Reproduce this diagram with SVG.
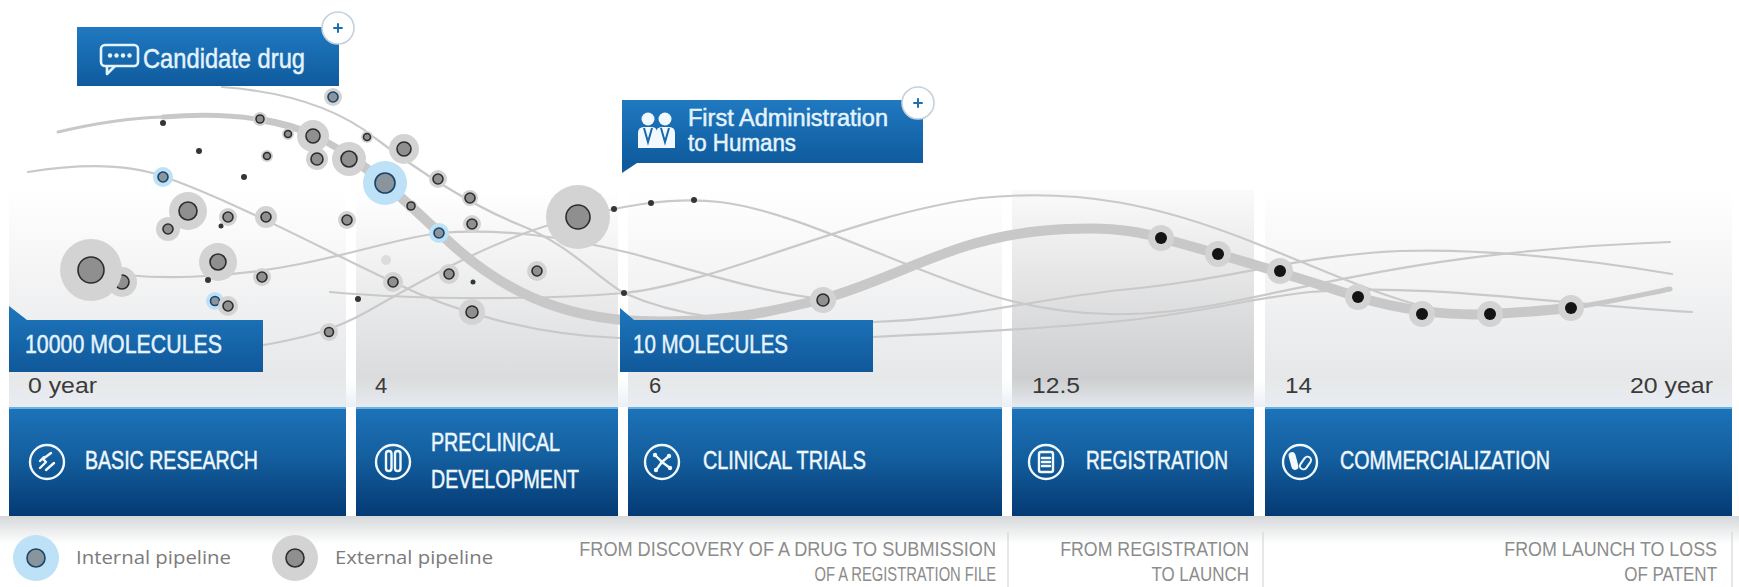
<svg xmlns="http://www.w3.org/2000/svg" width="1739" height="587" viewBox="0 0 1739 587">
  <defs>
    <linearGradient id="phaseGrad" x1="0" y1="0" x2="0" y2="1">
      <stop offset="0" stop-color="#1d73b9"/>
      <stop offset="0.45" stop-color="#145f9f"/>
      <stop offset="1" stop-color="#043a74"/>
    </linearGradient>
    <linearGradient id="calloutGrad" x1="0" y1="0" x2="0" y2="1">
      <stop offset="0" stop-color="#2079c0"/>
      <stop offset="1" stop-color="#0f5b9e"/>
    </linearGradient>
    <linearGradient id="molGrad" x1="0" y1="0" x2="0" y2="1">
      <stop offset="0" stop-color="#1e76bc"/>
      <stop offset="1" stop-color="#10589a"/>
    </linearGradient>
    <linearGradient id="colLight" x1="0" y1="0" x2="0" y2="1">
      <stop offset="0" stop-color="#ffffff"/>
      <stop offset="1" stop-color="#e3e4e6"/>
    </linearGradient>
    <linearGradient id="colMid" x1="0" y1="0" x2="0" y2="1">
      <stop offset="0" stop-color="#ffffff"/>
      <stop offset="1" stop-color="#d5d6d8"/>
    </linearGradient>
    <linearGradient id="colDark" x1="0" y1="0" x2="0" y2="1">
      <stop offset="0" stop-color="#fafafa"/>
      <stop offset="1" stop-color="#c6c7c9"/>
    </linearGradient>
    <linearGradient id="shadowGrad" x1="0" y1="0" x2="0" y2="1">
      <stop offset="0" stop-color="#d6d8da"/>
      <stop offset="1" stop-color="#ffffff"/>
    </linearGradient>
    <linearGradient id="stripGrad" x1="0" y1="0" x2="0" y2="1">
      <stop offset="0" stop-color="#eef1f4" stop-opacity="0"/>
      <stop offset="1" stop-color="#e8eef4" stop-opacity="0.9"/>
    </linearGradient>
  </defs>
  <style>
    .thin { fill: none; stroke: #c9c9c9; stroke-width: 2.2; stroke-linecap: round; }
    .band { fill: none; stroke: #c8c8c8; stroke-linecap: round; }
    .ext { fill: #d3d3d3; }
    .int { fill: #bde1f6; }
    .core { fill: #8f8f8f; stroke: #2d2d2d; stroke-width: 1.6; }
    .icore { fill: #8a949c; stroke: #1b4468; stroke-width: 1.6; }
    .tiny { fill: #353535; }
    .blk { fill: #141414; }
    .phase { fill: url(#phaseGrad); }
    .hl { fill: #6cb0e2; }
    .ptxt { font-family: "Liberation Sans", Arial, sans-serif; font-size: 25px; fill: #eef7fd; stroke: #eef7fd; stroke-width: 0.5; }
    .ico { fill: none; stroke: #f2f9fe; stroke-width: 2.4; stroke-linecap: round; stroke-linejoin: round; }
    .year { font-family: "Liberation Sans", Arial, sans-serif; font-size: 22px; fill: #3a3a3a; }
    .wtxt { font-family: "Liberation Sans", Arial, sans-serif; fill: #e4f3fc; stroke: #e4f3fc; stroke-width: 0.5; }
    .desc { font-family: "Liberation Sans", Arial, sans-serif; font-size: 21px; fill: #8c8c8c; text-anchor: end; }
    .leg { font-family: "Open Sans", "Liberation Sans", sans-serif; font-size: 19px; fill: #7b7b7b; }
    .sep { stroke: #cfcfcf; stroke-width: 1; }
    .plus-c { fill: #ffffff; stroke: #c4d1dc; stroke-width: 1.6; }
    .plus { stroke: #1d6fb0; stroke-width: 2; stroke-linecap: round; }
  </style>

  <rect width="1739" height="587" fill="#ffffff"/>

  <!-- column backdrops above the phase bar -->
  <g id="columns">
    <rect x="9" y="190" width="337" height="217" fill="url(#colLight)"/>
    <rect x="356" y="190" width="262" height="217" fill="url(#colMid)"/>
    <rect x="628" y="190" width="374" height="217" fill="url(#colLight)"/>
    <rect x="1012" y="190" width="242" height="217" fill="url(#colDark)"/>
    <rect x="1265" y="190" width="467" height="217" fill="url(#colLight)"/>
    <rect x="9" y="378" width="1723" height="29" fill="url(#stripGrad)"/>
    <rect x="0" y="516" width="1739" height="28" fill="url(#shadowGrad)"/>
  </g>

  <!-- flowing pipelines -->
  <g id="connectors">
    <path class="band" stroke-width="3" d="M58,132 C100,122 130,118 163,117"/>
    <path class="band" stroke-width="5" d="M163,117 C200,114 235,115 262,120"/>
    <path class="band" stroke-width="7" d="M262,120 C300,126 330,140 360,165"/>
    <path class="band" stroke-width="10" d="M352,158 C390,185 420,215 445,238 C500,290 560,318 640,321 C720,324 770,312 823,299 C900,277 950,240 1040,231 C1100,226 1130,229 1161,238 C1220,254 1290,275 1358,297 C1400,310 1450,316 1490,314 C1530,312 1560,309 1575,307"/>
    <path class="band" stroke-width="5" d="M1575,307 C1610,302 1640,295 1670,289"/>

    <path class="thin" d="M222,87 C290,92 340,110 375,138 C420,172 470,205 520,225 C570,245 600,280 624,293 C680,318 740,322 800,322 C830,322 860,322 873,322 C960,320 1030,300 1120,290 C1230,280 1300,255 1400,251 C1500,248 1600,262 1672,274"/>
    <path class="thin" d="M28,172 C90,162 135,166 165,177 C240,204 320,248 393,282 C450,310 530,335 620,338 C720,341 800,340 873,337 C960,333 1050,328 1110,322 C1200,314 1250,298 1310,292 C1420,282 1560,305 1692,312"/>
    <path class="thin" d="M91,270 C150,282 230,278 300,264 C360,252 400,238 439,233 C500,228 560,236 630,253 C700,272 760,292 823,299"/>
    <path class="thin" d="M330,292 C420,300 540,300 624,293 C720,283 850,215 980,198 C1080,188 1160,205 1255,243 C1330,273 1380,296 1426,307"/>
    <path class="thin" d="M578,217 C620,207 670,196 720,202 C800,212 900,268 1000,298 C1080,320 1150,318 1230,302 C1340,280 1450,250 1670,242"/>
    <path class="thin" d="M264,345 C300,338 330,333 370,310 C440,270 500,238 560,222"/>
  </g>

  <!-- molecules along the pipelines -->
  <g id="molecules">
    <circle class="ext" cx="122" cy="282" r="15"/><circle class="core" cx="122" cy="282" r="7"/>
    <circle class="ext" cx="91" cy="270" r="31"/><circle class="core" cx="91" cy="270" r="13"/>
    <circle class="tiny" cx="163" cy="123" r="3"/>
    <circle class="ext" cx="260" cy="119" r="7"/><circle class="core" cx="260" cy="119" r="4"/>
    <circle class="ext" cx="288" cy="134" r="6"/><circle class="core" cx="288" cy="134" r="3.5"/>
    <circle class="ext" cx="313" cy="136" r="16"/><circle class="core" cx="313" cy="136" r="7"/>
    <circle class="ext" cx="367" cy="137" r="6"/><circle class="core" cx="367" cy="137" r="3.5"/>
    <circle class="ext" cx="404" cy="149" r="15"/><circle class="core" cx="404" cy="149" r="7"/>
    <circle class="tiny" cx="199" cy="151" r="3"/>
    <circle class="ext" cx="267" cy="156" r="6"/><circle class="core" cx="267" cy="156" r="3.5"/>
    <circle class="ext" cx="317" cy="159" r="11"/><circle class="core" cx="317" cy="159" r="6"/>
    <circle class="ext" cx="349" cy="159" r="17"/><circle class="core" cx="349" cy="159" r="8"/>
    <circle class="int" cx="163" cy="177" r="10"/><circle class="icore" cx="163" cy="177" r="5"/>
    <circle class="tiny" cx="244" cy="177" r="3"/>
    <circle class="int" cx="385" cy="183" r="22"/><circle class="icore" cx="385" cy="183" r="10"/>
    <circle class="ext" cx="438" cy="179" r="9"/><circle class="core" cx="438" cy="179" r="5"/>
    <circle class="ext" cx="470" cy="198" r="8"/><circle class="core" cx="470" cy="198" r="5"/>
    <circle class="ext" cx="411" cy="206" r="6"/><circle class="core" cx="411" cy="206" r="4"/>
    <circle class="ext" cx="188" cy="211" r="19"/><circle class="core" cx="188" cy="211" r="9"/>
    <circle class="ext" cx="228" cy="217" r="9"/><circle class="core" cx="228" cy="217" r="5"/>
    <circle class="ext" cx="266" cy="217" r="11"/><circle class="core" cx="266" cy="217" r="5"/>
    <circle class="ext" cx="347" cy="220" r="9"/><circle class="core" cx="347" cy="220" r="5"/>
    <circle class="ext" cx="472" cy="224" r="9"/><circle class="core" cx="472" cy="224" r="5"/>
    <circle class="ext" cx="168" cy="229" r="12"/><circle class="core" cx="168" cy="229" r="5"/>
    <circle class="tiny" cx="221" cy="226" r="2.5"/>
    <circle class="int" cx="439" cy="233" r="10"/><circle class="icore" cx="439" cy="233" r="5"/>
    <circle fill="#dcdcdc" cx="386" cy="260" r="5"/>
    <circle class="ext" cx="218" cy="262" r="19"/><circle class="core" cx="218" cy="262" r="8"/>
    <circle class="tiny" cx="208" cy="280" r="3"/>
    <circle class="ext" cx="262" cy="277" r="9"/><circle class="core" cx="262" cy="277" r="5"/>
    <circle class="ext" cx="393" cy="282" r="10"/><circle class="core" cx="393" cy="282" r="5"/>
    <circle class="ext" cx="449" cy="274" r="10"/><circle class="core" cx="449" cy="274" r="5"/>
    <circle class="tiny" cx="473" cy="282" r="2.5"/>
    <circle class="tiny" cx="358" cy="299" r="3"/>
    <circle class="int" cx="215" cy="301" r="9"/><circle class="icore" cx="215" cy="301" r="4.5"/>
    <circle class="ext" cx="228" cy="306" r="10"/><circle class="core" cx="228" cy="306" r="5"/>
    <circle class="ext" cx="472" cy="312" r="13"/><circle class="core" cx="472" cy="312" r="6"/>
    <circle class="ext" cx="329" cy="332" r="9"/><circle class="core" cx="329" cy="332" r="4.5"/>
    <circle class="ext" cx="333" cy="97" r="9"/><circle class="icore" cx="333" cy="97" r="5"/>
    <circle class="ext" cx="537" cy="271" r="10"/><circle class="core" cx="537" cy="271" r="5"/>
    <circle class="ext" cx="578" cy="217" r="32"/><circle class="core" cx="578" cy="217" r="12"/>
    <circle class="tiny" cx="614" cy="209" r="3"/>
    <circle class="tiny" cx="651" cy="203" r="3"/>
    <circle class="tiny" cx="694" cy="200" r="3"/>
    <circle class="tiny" cx="624" cy="293" r="3"/>
    <circle class="ext" cx="823" cy="300" r="13"/><circle class="core" cx="823" cy="300" r="6"/>
    <circle class="ext" cx="1161" cy="238" r="13"/><circle class="blk" cx="1161" cy="238" r="6"/>
    <circle class="ext" cx="1218" cy="254" r="13"/><circle class="blk" cx="1218" cy="254" r="6"/>
    <circle class="ext" cx="1280" cy="271" r="13"/><circle class="blk" cx="1280" cy="271" r="6"/>
    <circle class="ext" cx="1358" cy="297" r="13"/><circle class="blk" cx="1358" cy="297" r="6"/>
    <circle class="ext" cx="1422" cy="314" r="13"/><circle class="blk" cx="1422" cy="314" r="6"/>
    <circle class="ext" cx="1490" cy="314" r="13"/><circle class="blk" cx="1490" cy="314" r="6"/>
    <circle class="ext" cx="1571" cy="308" r="13"/><circle class="blk" cx="1571" cy="308" r="6"/>
  </g>

  <!-- molecule counters -->
  <g id="count-10000">
    <path d="M9,306 L27,320 L263,320 L263,372 L9,372 Z" fill="url(#molGrad)"/>
    <text class="wtxt" x="25" y="353" font-size="25" textLength="197" lengthAdjust="spacingAndGlyphs">10000 MOLECULES</text>
  </g>
  <g id="count-10">
    <path d="M620,308 L634,320 L873,320 L873,372 L620,372 Z" fill="url(#molGrad)"/>
    <text class="wtxt" x="633" y="353" font-size="25" textLength="155" lengthAdjust="spacingAndGlyphs">10 MOLECULES</text>
  </g>

  <!-- milestone callouts -->
  <g id="candidate-drug">
    <rect x="77" y="27" width="262" height="59" fill="url(#calloutGrad)"/>
    <rect x="101" y="45" width="37" height="21" rx="4" fill="none" stroke="#e4f3fc" stroke-width="2.6"/>
    <path d="M107,66 L107,74 L115,66" fill="none" stroke="#e4f3fc" stroke-width="2.6" stroke-linejoin="round"/>
    <circle cx="110" cy="55.5" r="2.2" fill="#e4f3fc"/>
    <circle cx="116.5" cy="55.5" r="2.2" fill="#e4f3fc"/>
    <circle cx="123" cy="55.5" r="2.2" fill="#e4f3fc"/>
    <circle cx="129.5" cy="55.5" r="2.2" fill="#e4f3fc"/>
    <text class="wtxt" x="143" y="68" font-size="28" textLength="162" lengthAdjust="spacingAndGlyphs">Candidate drug</text>
    <circle class="plus-c" cx="338" cy="28" r="16"/>
    <path class="plus" d="M334,28 L342,28 M338,24 L338,32"/>
  </g>
  <g id="first-administration">
    <rect x="622" y="100" width="301" height="63" fill="url(#calloutGrad)"/>
    <path d="M622,160 L622,173 L637,163 Z" fill="#0f5b9e"/>
    <circle cx="648" cy="119" r="6.5" fill="#f2f9fe"/>
    <circle cx="665" cy="119" r="6.5" fill="#f2f9fe"/>
    <path d="M638,148 L638,133 Q638,127 644,127 L652,127 Q657,127 657,133 L657,148 Z" fill="#f2f9fe"/>
    <path d="M656,148 L656,133 Q656,127 662,127 L669,127 Q675,127 675,133 L675,148 Z" fill="#f2f9fe"/>
    <path d="M644,128 L648,142 L652,128 M661,128 L665,142 L669,128" fill="none" stroke="#1a68ac" stroke-width="2"/>
    <text class="wtxt" x="688" y="126" font-size="23" textLength="200" lengthAdjust="spacingAndGlyphs">First Administration</text>
    <text class="wtxt" x="688" y="151" font-size="23" textLength="108" lengthAdjust="spacingAndGlyphs">to Humans</text>
    <circle class="plus-c" cx="918" cy="103" r="16"/>
    <path class="plus" d="M914,103 L922,103 M918,99 L918,107"/>
  </g>

  <!-- timeline years -->
  <g id="years">
    <text class="year" x="28" y="393" textLength="69" lengthAdjust="spacingAndGlyphs">0 year</text>
    <text class="year" x="375" y="393">4</text>
    <text class="year" x="649" y="393">6</text>
    <text class="year" x="1032" y="393" textLength="48" lengthAdjust="spacingAndGlyphs">12.5</text>
    <text class="year" x="1285" y="393" textLength="27" lengthAdjust="spacingAndGlyphs">14</text>
    <text class="year" x="1630" y="393" textLength="83" lengthAdjust="spacingAndGlyphs">20 year</text>
  </g>

  <!-- development phases -->
  <g id="phase-basic-research">
    <rect class="phase" x="9" y="407" width="337" height="109"/>
    <rect class="hl" x="9" y="407" width="337" height="2"/>
    <circle class="ico" cx="47" cy="462" r="17"/>
    <path class="ico" d="M40,468 L46,462 L43,459 L51,453 M46,470 L54,463 M40,461 L44,457"/>
    <text class="ptxt" x="85" y="469" textLength="173" lengthAdjust="spacingAndGlyphs">BASIC RESEARCH</text>
  </g>
  <g id="phase-preclinical">
    <rect class="phase" x="356" y="407" width="262" height="109"/>
    <rect class="hl" x="356" y="407" width="262" height="2"/>
    <circle class="ico" cx="393" cy="462" r="17"/>
    <rect class="ico" x="386" y="451" width="5.5" height="20" rx="2.7"/>
    <rect class="ico" x="395" y="451" width="5.5" height="20" rx="2.7"/>
    <text class="ptxt" x="431" y="451" textLength="129" lengthAdjust="spacingAndGlyphs">PRECLINICAL</text>
    <text class="ptxt" x="431" y="488" textLength="148" lengthAdjust="spacingAndGlyphs">DEVELOPMENT</text>
  </g>
  <g id="phase-clinical-trials">
    <rect class="phase" x="628" y="407" width="374" height="109"/>
    <rect class="hl" x="628" y="407" width="374" height="2"/>
    <circle class="ico" cx="662" cy="462" r="17"/>
    <path class="ico" stroke-width="1.6" d="M655,455 L662,462 L669,456 M662,462 L656,470 M662,462 L670,468"/>
    <circle cx="655" cy="455" r="2.2" fill="#f2f9fe"/>
    <circle cx="669" cy="456" r="2.2" fill="#f2f9fe"/>
    <circle cx="662" cy="462" r="2.2" fill="#f2f9fe"/>
    <circle cx="656" cy="470" r="2.2" fill="#f2f9fe"/>
    <circle cx="670" cy="468" r="2.2" fill="#f2f9fe"/>
    <text class="ptxt" x="703" y="469" textLength="163" lengthAdjust="spacingAndGlyphs">CLINICAL TRIALS</text>
  </g>
  <g id="phase-registration">
    <rect class="phase" x="1012" y="407" width="242" height="109"/>
    <rect class="hl" x="1012" y="407" width="242" height="2"/>
    <circle class="ico" cx="1046" cy="462" r="17"/>
    <rect class="ico" stroke-width="2" x="1039" y="452" width="14" height="20" rx="2"/>
    <path class="ico" stroke-width="1.4" d="M1042,458 L1050,458 M1042,462 L1050,462 M1042,466 L1050,466"/>
    <text class="ptxt" x="1086" y="469" textLength="142" lengthAdjust="spacingAndGlyphs">REGISTRATION</text>
  </g>
  <g id="phase-commercialization">
    <rect class="phase" x="1265" y="407" width="467" height="109"/>
    <rect class="hl" x="1265" y="407" width="467" height="2"/>
    <circle class="ico" cx="1300" cy="462" r="17"/>
    <rect x="1290" y="452" width="7" height="18" rx="3.5" fill="#f2f9fe" transform="rotate(-15 1293.5 461)"/>
    <rect x="1302" y="456" width="7" height="14" rx="3.5" fill="none" stroke="#f2f9fe" stroke-width="2" transform="rotate(35 1305.5 463)"/>
    <text class="ptxt" x="1340" y="469" textLength="210" lengthAdjust="spacingAndGlyphs">COMMERCIALIZATION</text>
  </g>

  <!-- legend -->
  <g id="legend-internal">
    <circle class="int" cx="36" cy="558" r="23"/>
    <circle class="icore" cx="36" cy="558" r="9"/>
    <text class="leg" x="76" y="564" textLength="155" lengthAdjust="spacingAndGlyphs">Internal pipeline</text>
  </g>
  <g id="legend-external">
    <circle class="ext" cx="295" cy="558" r="23"/>
    <circle class="core" cx="295" cy="558" r="9"/>
    <text class="leg" x="335" y="564" textLength="158" lengthAdjust="spacingAndGlyphs">External pipeline</text>
  </g>

  <!-- phase durations, right-aligned and narrowed to a condensed look -->
  <g id="durations">
    <line class="sep" x1="1008" y1="532" x2="1008" y2="587"/>
    <line class="sep" x1="1263" y1="532" x2="1263" y2="587"/>
    <line class="sep" x1="1732" y1="532" x2="1732" y2="587"/>
    <text class="desc" transform="translate(996 556) scale(0.8 1)" textLength="521" lengthAdjust="spacingAndGlyphs">FROM DISCOVERY OF A DRUG TO SUBMISSION</text>
    <text class="desc" transform="translate(996 581) scale(0.8 1)" textLength="227" lengthAdjust="spacingAndGlyphs">OF A REGISTRATION FILE</text>
    <text class="desc" transform="translate(1249 556) scale(0.8 1)" textLength="236" lengthAdjust="spacingAndGlyphs">FROM REGISTRATION</text>
    <text class="desc" transform="translate(1249 581) scale(0.8 1)" textLength="122" lengthAdjust="spacingAndGlyphs">TO LAUNCH</text>
    <text class="desc" transform="translate(1717 556) scale(0.8 1)" textLength="266" lengthAdjust="spacingAndGlyphs">FROM LAUNCH TO LOSS</text>
    <text class="desc" transform="translate(1717 581) scale(0.8 1)" textLength="116" lengthAdjust="spacingAndGlyphs">OF PATENT</text>
  </g>
</svg>
